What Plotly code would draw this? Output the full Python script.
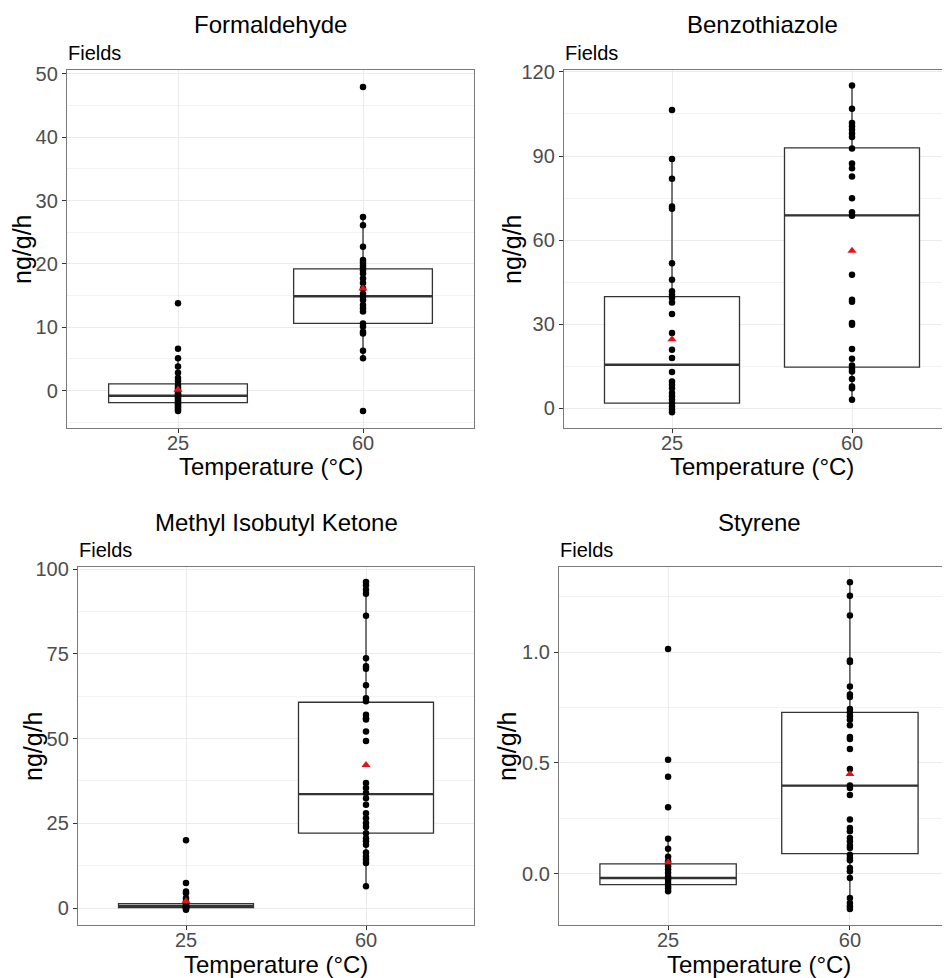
import plotly.graph_objects as go

# ---------------- data ----------------
temps = ["25", "60"]
xpos = [1, 2]
chem_names = ["Formaldehyde", "Benzothiazole", "Methyl Isobutyl Ketone", "Styrene"]

form_25 = [13.8, 6.6, 5.1, 3.8, 2.8, 2.0, 1.5, 0.9, 0.5, 0.2, -0.1, -0.4, -0.6, -0.8,
           -1.0, -1.2, -1.5, -1.7, -2.0, -2.2, -2.5, -2.7, -3.0, -3.2]
form_60 = [47.9, 27.4, 26.1, 22.7, 20.6, 20.2, 19.8, 19.4, 19.0, 18.5, 17.7, 17.0, 16.1,
           15.3, 14.8, 14.3, 13.5, 13.0, 12.5, 10.6, 10.1, 9.3, 9.0, 6.3, 5.1, -3.2]
form_q1 = [-1.9, 10.6]
form_med = [-0.8, 14.9]
form_q3 = [1.05, 19.2]
form_lo = [-3.2, 5.1]
form_hi = [5.1, 27.4]
form_mean = [0.15, 16.1]

benz_25 = [106.4, 88.9, 81.9, 72.0, 71.2, 51.7, 45.8, 41.7, 40.5, 39.3, 37.7, 33.6, 26.8,
           20.8, 17.9, 12.9, 9.5, 8.3, 7.1, 5.4, 4.2, 3.0, 1.8, 0.6, -0.6, -1.5]
benz_60 = [115.2, 106.9, 101.8, 100.6, 99.4, 98.0, 96.8, 92.7, 87.3, 85.6, 82.7, 74.9, 69.9,
           68.7, 47.6, 38.7, 38.0, 30.4, 29.8, 21.1, 17.6, 15.2, 14.0, 13.1, 10.4, 7.7, 7.1, 3.0]
benz_q1 = [1.8, 14.6]
benz_med = [15.5, 68.8]
benz_q3 = [39.8, 92.9]
benz_lo = [-1.5, 3.0]
benz_hi = [88.9, 115.2]
benz_mean = [24.6, 56.2]

mibk_25 = [20.0, 7.4, 4.9, 4.4, 2.9, 2.0, 1.5, 1.0, 0.7, 0.5, 0.3, 0.1, 0.0, -0.3, -0.5]
mibk_60 = [96.2, 95.2, 93.9, 92.7, 86.2, 73.7, 71.3, 70.6, 65.7, 61.9, 61.0, 57.0, 56.0, 55.6,
           52.1, 49.3, 36.9, 35.4, 33.9, 32.4, 30.5, 28.0, 26.5, 25.1, 23.9, 22.1, 20.6, 19.7,
           18.7, 16.4, 15.2, 14.3, 13.3, 6.4]
mibk_q1 = [0.1, 22.1]
mibk_med = [0.6, 33.6]
mibk_q3 = [1.3, 60.7]
mibk_lo = [-0.5, 6.4]
mibk_hi = [2.9, 96.2]
mibk_mean = [2.0, 42.2]

sty_25 = [1.014, 0.515, 0.438, 0.300, 0.159, 0.113, 0.077, 0.057, 0.035, 0.020, 0.005,
          -0.011, -0.026, -0.041, -0.056, -0.065, -0.078]
sty_60 = [1.314, 1.254, 1.165, 0.962, 0.955, 0.845, 0.808, 0.797, 0.743, 0.728, 0.710, 0.695,
          0.670, 0.617, 0.608, 0.563, 0.473, 0.398, 0.387, 0.356, 0.245, 0.207, 0.192, 0.162,
          0.147, 0.128, 0.117, 0.087, 0.072, 0.062, 0.027, 0.012, -0.018, -0.108, -0.131,
          -0.146, -0.158]
sty_q1 = [-0.048, 0.092]
sty_med = [-0.018, 0.398]
sty_q3 = [0.045, 0.728]
sty_lo = [-0.078, -0.158]
sty_hi = [0.159, 1.314]
sty_mean = [0.053, 0.450]

groups = [
    (form_25, form_60, form_q1, form_med, form_q3, form_lo, form_hi, form_mean),
    (benz_25, benz_60, benz_q1, benz_med, benz_q3, benz_lo, benz_hi, benz_mean),
    (mibk_25, mibk_60, mibk_q1, mibk_med, mibk_q3, mibk_lo, mibk_hi, mibk_mean),
    (sty_25, sty_60, sty_q1, sty_med, sty_q3, sty_lo, sty_hi, sty_mean),
]

# ---------------- layout geometry / style ----------------
OFF = 8                      # page body margin
W, H = 950, 978
FONT = "Liberation Sans, Arial, sans-serif"
BOX_W = 0.75
BORDER = "#7a7a7a"
BOXLINE = "#333333"
GRID = "#EBEBEB"
MINOR = "#F3F3F3"
TICKCOL = "#4D4D4D"
VIEW_R = 950     # right edge of the visible window (reference pixels)

panels = [
    dict(x0=67, x1=474, y0=70, y1=428, full=None, yr=[-5.9, 50.6], dt=10, mdt=5, fmt="", clip=False),
    dict(x0=564, x1=VIEW_R, y0=70, y1=428, full=960, yr=[-7.1, 120.7], dt=30, mdt=15, fmt="", clip=True),
    dict(x0=78, x1=474, y0=567, y1=925, full=None, yr=[-5.0, 100.6], dt=25, mdt=12.5, fmt="", clip=False),
    dict(x0=559, x1=VIEW_R, y0=567, y1=925, full=959, yr=[-0.23, 1.383], dt=0.5, mdt=0.25, fmt=".1f", clip=True),
]
XR = [0.4, 2.6]


def fx(v):
    return (v - OFF) / W


def fy(v):
    return 1 - (v - OFF) / H


fig = go.Figure()
layout = {}
annotations = []

for i, (p, g, name) in enumerate(zip(panels, groups, chem_names)):
    n = "" if i == 0 else str(i + 1)
    xa, ya = "x" + n, "y" + n
    a25, a60, q1, med, q3, lo, hi, mean = g

    right_full = p["full"] if p["full"] else p["x1"]
    unit = (right_full - p["x0"]) / (XR[1] - XR[0])
    xr = [XR[0], XR[0] + (p["x1"] - p["x0"]) / unit]

    fig.add_trace(go.Box(
        x=xpos, q1=q1, median=med, q3=q3, lowerfence=lo, upperfence=hi,
        width=BOX_W, whiskerwidth=0, fillcolor="white",
        line=dict(color=BOXLINE, width=1.3), boxpoints=False,
        xaxis=xa, yaxis=ya, showlegend=False, hoverinfo="skip"))

    mx, my = [], []
    for xp, m in zip(xpos, med):
        mx += [xp - BOX_W / 2, xp + BOX_W / 2, None]
        my += [m, m, None]
    fig.add_trace(go.Scatter(x=mx, y=my, mode="lines", line=dict(color=BOXLINE, width=2.4),
                             xaxis=xa, yaxis=ya, showlegend=False, hoverinfo="skip"))

    fig.add_trace(go.Scatter(
        x=[xpos[0]] * len(a25) + [xpos[1]] * len(a60), y=a25 + a60, mode="markers",
        marker=dict(size=6.5, color="black"), xaxis=xa, yaxis=ya, showlegend=False))

    fig.add_trace(go.Scatter(
        x=xpos, y=mean, mode="markers",
        marker=dict(symbol="triangle-up", size=8, color="#E0151B"),
        xaxis=xa, yaxis=ya, showlegend=False))

    layout["xaxis" + n] = dict(
        domain=[fx(p["x0"]), min(fx(p["x1"]), 1.0)], anchor=ya, range=xr, automargin=False,
        tickmode="array", tickvals=xpos, ticktext=temps,
        showgrid=True, gridcolor=GRID, gridwidth=1.2, zeroline=False,
        showline=True, linecolor=BORDER, linewidth=1.3, mirror=True,
        ticks="outside", ticklen=4, tickcolor="#333333", tickwidth=1,
        ticklabelstandoff=-7,
        tickfont=dict(family=FONT, size=20, color=TICKCOL), fixedrange=True)
    layout["yaxis" + n] = dict(
        domain=[fy(p["y1"]), fy(p["y0"])], anchor=xa, range=p["yr"], automargin=False,
        tickmode="linear", tick0=0, dtick=p["dt"], tickformat=p["fmt"],
        showgrid=True, gridcolor=GRID, gridwidth=1.2, zeroline=False,
        minor=dict(tick0=0, dtick=p["mdt"], showgrid=True, gridcolor=MINOR, gridwidth=0.8),
        showline=True, linecolor=BORDER, linewidth=1.3, mirror=not p["clip"],
        ticks="outside", ticklen=4, tickcolor="#333333", tickwidth=1,
        tickfont=dict(family=FONT, size=20, color=TICKCOL), fixedrange=True)

    cx = (p["x0"] + right_full) / 2
    cy = (p["y0"] + p["y1"]) / 2
    annotations.append(dict(text=name, x=fx(cx), y=fy(p["y0"] - 45), xref="paper", yref="paper",
                            xanchor="center", yanchor="middle", showarrow=False,
                            font=dict(family=FONT, size=24, color="black")))
    annotations.append(dict(text="Fields", x=fx(p["x0"] - 1), y=fy(p["y0"] - 17), xref="paper", yref="paper",
                            xanchor="left", yanchor="middle", showarrow=False,
                            font=dict(family=FONT, size=20, color="black")))
    annotations.append(dict(text="Temperature (°C)", x=fx(cx), y=fy(p["y1"] + 39), xref="paper", yref="paper",
                            xanchor="center", yanchor="middle", showarrow=False,
                            font=dict(family=FONT, size=24, color="black")))
    annotations.append(dict(text="ng/g/h", x=fx(p["x0"] - 45 if i % 2 == 0 else p["x0"] - 52),
                            y=fy(cy), xref="paper", yref="paper", textangle=-90,
                            xanchor="center", yanchor="middle", showarrow=False,
                            font=dict(family=FONT, size=25, color="black")))

fig.update_layout(
    width=W, height=H, margin=dict(l=0, r=0, t=0, b=0),
    paper_bgcolor="white", plot_bgcolor="white",
    showlegend=False, annotations=annotations, **layout)

fig.write_html("out.html")
